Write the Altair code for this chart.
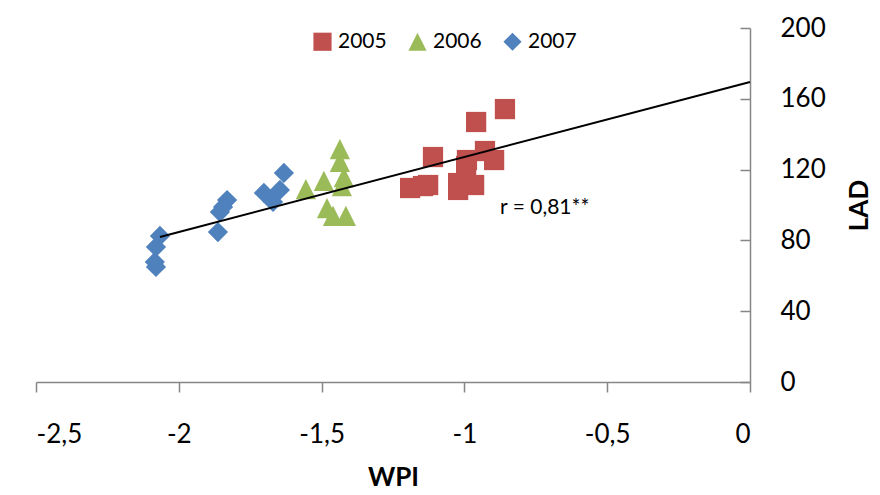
import altair as alt
import pandas as pd

# ---- data ----
years = ["2005", "2006", "2007"]

wpi_2005 = [-0.858, -0.959, -1.110, -0.928, -0.896, -0.991, -1.190, -1.145, -1.127, -1.022, -1.022, -0.966, -0.994]
lad_2005 = [154.2, 146.9, 127.1, 130.5, 125.4, 125.4, 109.6, 110.7, 111.3, 112.4, 108.5, 111.3, 122.0]

wpi_2006 = [-1.555, -1.492, -1.436, -1.436, -1.422, -1.429, -1.481, -1.460, -1.415]
lad_2006 = [109.0, 113.6, 131.6, 124.3, 115.8, 110.7, 98.3, 93.8, 93.8]

wpi_2007 = [-2.066, -2.080, -2.084, -2.080, -1.831, -1.845, -1.856, -1.863, -1.632, -1.702, -1.646, -1.670]
lad_2007 = [82.5, 76.3, 67.8, 65.0, 102.8, 98.9, 96.0, 84.7, 118.1, 106.8, 108.5, 101.7]

trend_wpi = [-2.066, 0.0]
trend_lad = [81.9, 169.5]

note_wpi = [-0.875]
note_lad = [98.3]
note_text = ["r = 0,81**"]

x_ticks = [-2.5, -2, -1.5, -1, -0.5, 0]
y_ticks = [0, 40, 80, 120, 160, 200]

colors = ["#C0504D", "#9BBB59", "#4F81BD"]
shapes = ["square", "M0,-1L-1,1L1,1Z", "diamond"]

# ---- tables ----
rows = []
for yr, xs, ys in zip(years, [wpi_2005, wpi_2006, wpi_2007], [lad_2005, lad_2006, lad_2007]):
    for a, b in zip(xs, ys):
        rows.append({"WPI": a, "LAD": b, "Year": yr})
pts = pd.DataFrame(rows)
trend = pd.DataFrame({"WPI": trend_wpi, "LAD": trend_lad})
note = pd.DataFrame({"WPI": note_wpi, "LAD": note_lad, "t": note_text})

FONT = "Lato"
AXC = "#868686"

xscale = alt.Scale(domain=[-2.5, 0], nice=False, zero=False)
yscale = alt.Scale(domain=[0, 200], nice=False)

xaxis = alt.Axis(
    values=x_ticks, grid=False, tickSize=10, tickColor=AXC, tickWidth=1.5,
    domainColor=AXC, domainWidth=1.5,
    labelExpr="replace(toString(datum.value), '.', ',')",
    labelFont=FONT, labelFontSize=26, labelColor="black",
    labelBaseline="middle", labelPadding=42,
    title="WPI", titleFont=FONT, titleFontSize=26, titleFontWeight="bold",
    titleColor="black", titleX=357, titleY=103, titleBaseline="alphabetic",
    titleAlign="center",
)

yaxis = alt.Axis(
    orient="left", offset=-714, values=y_ticks, grid=False,
    tickSize=10, tickColor=AXC, tickWidth=1.5,
    domainColor=AXC, domainWidth=1.5,
    labelFont=FONT, labelFontSize=26, labelColor="black",
    labelAlign="left", labelBaseline="middle", labelPadding=-40,
    title="LAD", titleFont=FONT, titleFontSize=26, titleFontWeight="bold",
    titleColor="black", titleX=109, titleY=177, titleAngle=270,
    titleAlign="center", titleBaseline="middle",
)

legend = alt.Legend(
    orient="none", legendX=276, legendY=3, direction="horizontal",
    title=None, labelFont=FONT, labelFontSize=21, labelColor="black",
    symbolSize=330, symbolOpacity=1, symbolStrokeWidth=0,
    columnPadding=20, labelOffset=5, columns=3,
)

points = alt.Chart(pts).mark_point(filled=True, size=410, opacity=1).encode(
    x=alt.X("WPI:Q", scale=xscale, axis=xaxis),
    y=alt.Y("LAD:Q", scale=yscale, axis=yaxis),
    color=alt.Color("Year:N", scale=alt.Scale(domain=years, range=colors), legend=legend),
    shape=alt.Shape("Year:N", scale=alt.Scale(domain=years, range=shapes), legend=legend),
)

line = alt.Chart(trend).mark_line(color="black", strokeWidth=2).encode(
    x=alt.X("WPI:Q", scale=xscale),
    y=alt.Y("LAD:Q", scale=yscale),
)

text = alt.Chart(note).mark_text(align="left", baseline="middle", font=FONT, fontSize=21, color="black").encode(
    x=alt.X("WPI:Q", scale=xscale),
    y=alt.Y("LAD:Q", scale=yscale),
    text="t:N",
)

chart = alt.layer(points, line, text).properties(
    width=714, height=354,
    autosize=alt.AutoSizeParams(type="none"),
    padding={"left": 28, "top": 20, "right": 122, "bottom": 105},
).configure_view(stroke=None)

chart.save("out.html", embed_options={"renderer": "svg", "actions": False})
